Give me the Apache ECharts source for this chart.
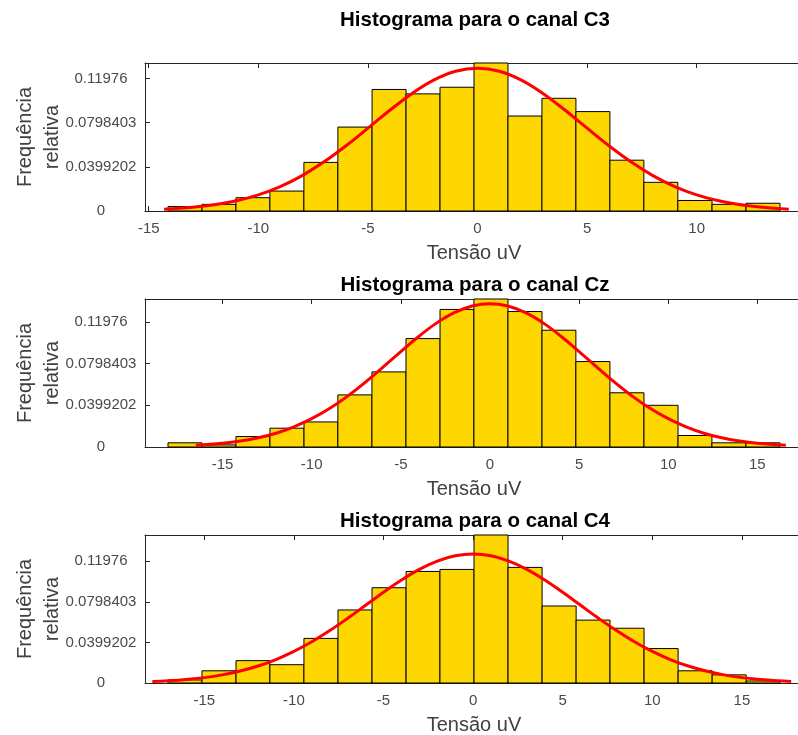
<!DOCTYPE html>
<html>
<head>
<meta charset="utf-8">
<script src="https://cdn.jsdelivr.net/npm/echarts@6/dist/echarts.min.js"></script>
<style>
  html, body { margin: 0; padding: 0; background: #ffffff; }
  #chart { width: 798px; height: 735px; }
</style>
</head>
<body>
<div id="chart"></div>
<script>
// Channel names shown in the panel titles
const channels = ['C3', 'Cz', 'C4'];

// Histogram bin edges (uV) for each channel
const edgesC3 = [-14.12, -12.57, -11.02, -9.47, -7.92, -6.37, -4.81, -3.26, -1.71, -0.16, 1.39, 2.94, 4.49, 6.04, 7.59, 9.14, 10.70, 12.25, 13.80];
const edgesCz = [-18.06, -16.15, -14.25, -12.34, -10.43, -8.53, -6.62, -4.71, -2.80, -0.90, 1.01, 2.92, 4.82, 6.73, 8.64, 10.55, 12.45, 14.36, 16.27];
const edgesC4 = [-17.03, -15.13, -13.23, -11.34, -9.44, -7.54, -5.64, -3.74, -1.85, 0.05, 1.95, 3.85, 5.75, 7.64, 9.54, 11.44, 13.34, 15.24, 17.13];

// Relative frequency of each bin
const freqC3 = [0.0040, 0.0060, 0.0120, 0.0180, 0.0439, 0.0758, 0.1098, 0.1058, 0.1118, 0.1337, 0.0858, 0.1018, 0.0898, 0.0459, 0.0259, 0.0095, 0.0060, 0.0070];
const freqCz = [0.0040, 0.0020, 0.0100, 0.0180, 0.0240, 0.0499, 0.0719, 0.1038, 0.1317, 0.1417, 0.1297, 0.1118, 0.0818, 0.0519, 0.0399, 0.0110, 0.0040, 0.0040];
const freqC4 = [0.0030, 0.0120, 0.0220, 0.0180, 0.0439, 0.0719, 0.0938, 0.1098, 0.1118, 0.1457, 0.1138, 0.0758, 0.0619, 0.0539, 0.0339, 0.0120, 0.0080, 0.0020];

// Fitted normal curve, sampled along the voltage axis
const fitXC3 = [-14.3, -13, -12, -11, -10, -9, -8, -7, -6, -5, -4, -3, -2, -1, 0, 1, 2, 3, 4, 5, 6, 7, 8, 9, 10, 11, 12, 13, 14.2];
const fitYC3 = [0.0015, 0.0033, 0.0056, 0.0092, 0.0146, 0.0221, 0.0320, 0.0444, 0.0589, 0.0748, 0.0910, 0.1060, 0.1182, 0.1262, 0.1290, 0.1262, 0.1182, 0.1060, 0.0910, 0.0748, 0.0589, 0.0444, 0.0320, 0.0221, 0.0146, 0.0092, 0.0056, 0.0033, 0.0016];
const fitXCz = [-16.5, -15, -14, -13, -12, -11, -10, -9, -8, -7, -6, -5, -4, -3, -2, -1, 0, 1, 2, 3, 4, 5, 6, 7, 8, 9, 10, 11, 12, 13, 14, 15, 16.6];
const fitYCz = [0.0017, 0.0036, 0.0057, 0.0088, 0.0132, 0.0193, 0.0271, 0.0368, 0.0485, 0.0619, 0.0765, 0.0914, 0.1058, 0.1186, 0.1286, 0.1350, 0.1372, 0.1350, 0.1286, 0.1186, 0.1058, 0.0914, 0.0765, 0.0619, 0.0485, 0.0368, 0.0271, 0.0193, 0.0132, 0.0088, 0.0057, 0.0036, 0.0016];
const fitXC4 = [-17.9, -17, -16, -15, -14, -13, -12, -11, -10, -9, -8, -7, -6, -5, -4, -3, -2, -1, 0, 1, 2, 3, 4, 5, 6, 7, 8, 9, 10, 11, 12, 13, 14, 15, 16, 17, 17.75];
const fitYC4 = [0.0014, 0.0022, 0.0035, 0.0053, 0.0080, 0.0118, 0.0167, 0.0231, 0.0311, 0.0406, 0.0516, 0.0637, 0.0765, 0.0893, 0.1014, 0.1119, 0.1200, 0.1252, 0.1270, 0.1252, 0.1200, 0.1119, 0.1014, 0.0893, 0.0765, 0.0637, 0.0516, 0.0406, 0.0311, 0.0231, 0.0167, 0.0118, 0.0080, 0.0053, 0.0035, 0.0022, 0.0015];

// Axis ranges and tick labels
const xRanges = [[-15.17, 14.85], [-19.35, 17.56], [-18.31, 18.41]];
const xTicks = [[-15, -10, -5, 0, 5, 10], [-15, -10, -5, 0, 5, 10, 15], [-15, -10, -5, 0, 5, 10, 15]];
const yTickValues = [0, 0.0399202, 0.0798403, 0.11976];
const yTickLabels = ['0', '0.0399202', '0.0798403', '0.11976'];

const xLabel = 'Tensão uV';
const yLabel = 'Frequência\nrelativa';
const titlePrefix = 'Histograma para o canal ';

const panels = [
  { edges: edgesC3, freq: freqC3, fitX: fitXC3, fitY: fitYC3 },
  { edges: edgesCz, freq: freqCz, fitX: fitXCz, fitY: fitYCz },
  { edges: edgesC4, freq: freqC4, fitX: fitXC4, fitY: fitYC4 }
];

const FONT = '"Liberation Sans", Arial, Helvetica, sans-serif';
const AXIS_COLOR = '#262626';
const LABEL_COLOR = '#4a4a4a';
const NAME_COLOR = '#404040';
const BAR_FILL = '#FFD700';

const gridTops = [63, 299, 535];
const gridHeight = 148;
const titleTops = [5, 270, 506];

const grids = [], xAxes = [], yAxes = [], series = [], titles = [];

panels.forEach(function (p, i) {
  // the plot box runs slightly past the right edge of the canvas
  grids.push({
    left: 145, right: -5, top: gridTops[i], height: gridHeight,
    containLabel: false, outerBoundsMode: 'none'
  });

  const tickSet = xTicks[i];
  // bottom axis with labels
  xAxes.push({
    type: 'value', gridIndex: i, position: 'bottom',
    min: xRanges[i][0], max: xRanges[i][1],
    name: xLabel, nameLocation: 'middle', nameGap: 32,
    nameTextStyle: { fontFamily: FONT, fontSize: 20, color: NAME_COLOR },
    axisLine: { show: true, onZero: false, lineStyle: { color: AXIS_COLOR, width: 1 } },
    axisTick: { show: true, inside: true, length: 5, customValues: tickSet, lineStyle: { color: AXIS_COLOR } },
    axisLabel: { show: true, customValues: tickSet, margin: 10, fontFamily: FONT, fontSize: 15, color: LABEL_COLOR },
    splitLine: { show: false }
  });
  // top axis line with mirrored ticks
  xAxes.push({
    type: 'value', gridIndex: i, position: 'top',
    min: xRanges[i][0], max: xRanges[i][1],
    axisLine: { show: true, onZero: false, lineStyle: { color: AXIS_COLOR, width: 1 } },
    axisTick: { show: true, inside: true, length: 5, customValues: tickSet, lineStyle: { color: AXIS_COLOR } },
    axisLabel: { show: false },
    splitLine: { show: false }
  });

  yAxes.push({
    type: 'value', gridIndex: i, position: 'left',
    min: 0, max: Math.max.apply(null, p.freq),
    name: yLabel, nameLocation: 'middle', nameGap: 79, nameRotate: 90,
    nameMoveOverlap: false,
    nameTextStyle: { fontFamily: FONT, fontSize: 20, color: NAME_COLOR, lineHeight: 27, align: 'center' },
    axisLine: { show: true, onZero: false, lineStyle: { color: AXIS_COLOR, width: 1 } },
    axisTick: { show: true, inside: true, length: 5, customValues: yTickValues, lineStyle: { color: AXIS_COLOR } },
    axisLabel: {
      show: true, customValues: yTickValues, margin: 44, align: 'center',
      fontFamily: FONT, fontSize: 15, color: LABEL_COLOR,
      formatter: function (v) {
        const k = yTickValues.indexOf(v);
        return k >= 0 ? yTickLabels[k] : '';
      }
    },
    splitLine: { show: false }
  });

  // histogram bars: [left edge, right edge, relative frequency]
  const barData = p.freq.map(function (f, k) { return [p.edges[k], p.edges[k + 1], f]; });
  series.push({
    type: 'custom', xAxisIndex: 2 * i, yAxisIndex: i,
    data: barData,
    encode: { x: [0, 1], y: 2 },
    renderItem: function (params, api) {
      const a = api.coord([api.value(0), api.value(2)]);
      const b = api.coord([api.value(1), 0]);
      return {
        type: 'rect',
        shape: { x: a[0], y: a[1], width: b[0] - a[0], height: b[1] - a[1] },
        style: { fill: BAR_FILL, stroke: '#000000', lineWidth: 1 }
      };
    },
    silent: true, z: 2
  });

  // fitted normal curve
  series.push({
    type: 'line', xAxisIndex: 2 * i, yAxisIndex: i,
    data: p.fitX.map(function (x, k) { return [x, p.fitY[k]]; }),
    smooth: 0.4, showSymbol: false, symbol: 'none',
    lineStyle: { color: '#FF0000', width: 3 },
    clip: true, silent: true, z: 3
  });

  titles.push({
    text: titlePrefix + channels[i],
    left: 470, top: titleTops[i], textAlign: 'center',
    textStyle: { fontFamily: FONT, fontSize: 20.5, fontWeight: 'bold', color: '#000000' }
  });
});

const chart = echarts.init(document.getElementById('chart'), null, { renderer: 'canvas' });
chart.setOption({
  backgroundColor: '#ffffff',
  animation: false,
  title: titles,
  grid: grids,
  xAxis: xAxes,
  yAxis: yAxes,
  series: series
});
</script>
</body>
</html>
